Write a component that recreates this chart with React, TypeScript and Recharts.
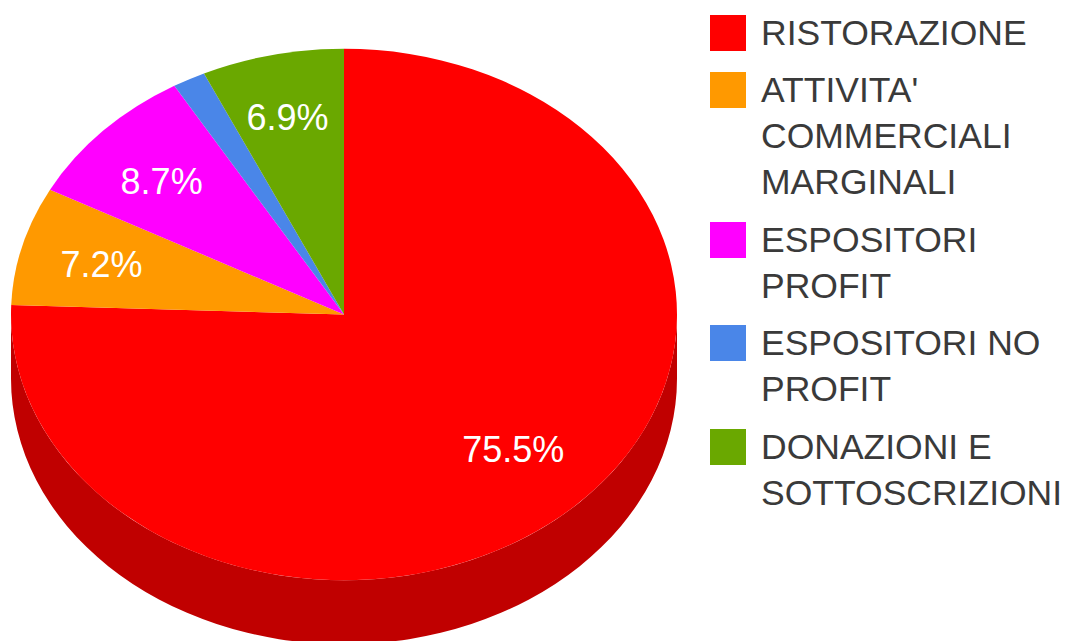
import { PieChart, Pie, Cell, Legend } from 'recharts';

const categories = ['RISTORAZIONE', "ATTIVITA' COMMERCIALI MARGINALI", 'ESPOSITORI PROFIT', 'ESPOSITORI NO PROFIT', 'DONAZIONI E SOTTOSCRIZIONI'];
const shares = [75.5, 7.2, 8.7, 1.6, 6.9];
const colors = ['#ff0000', '#ff9900', '#ff00ff', '#4a86e8', '#6aa800'];
const legendLines = [
  ['RISTORAZIONE'],
  ["ATTIVITA'", 'COMMERCIALI', 'MARGINALI'],
  ['ESPOSITORI', 'PROFIT'],
  ['ESPOSITORI NO', 'PROFIT'],
  ['DONAZIONI E', 'SOTTOSCRIZIONI'],
];

const data = categories.map((name, i) => ({ name, value: shares[i] }));

const FONT = 'Arial, "Liberation Sans", sans-serif';
const SQUASH = 0.798; // tilted pie, vertical radius / horizontal radius
const DEPTH = 64;
const WALL = '#c00000';
const RAD = Math.PI / 180;
const LABEL_NUDGE_Y = [-1.5, 3.5, 4.5, 0, -4.5];

// recharts gives a circular sector, flatten it and add the side wall
function TiltedSlice(props: any) {
  const { cx, cy, outerRadius, startAngle, endAngle, fill } = props;
  const rx = outerRadius;
  const ry = outerRadius * SQUASH;
  const px = (a: number) => cx + rx * Math.cos(a * RAD);
  const py = (a: number) => cy - ry * Math.sin(a * RAD);
  const large = Math.abs(startAngle - endAngle) > 180 ? 1 : 0;
  const top = `M${cx},${cy} L${px(startAngle)},${py(startAngle)} A${rx},${ry} 0 ${large} 1 ${px(endAngle)},${py(endAngle)} Z`;

  // only the front half of the rim shows a wall
  const from = Math.min(startAngle, 0);
  const to = Math.max(endAngle, -180);
  const wall =
    from > to
      ? `M${px(from)},${py(from)} A${rx},${ry} 0 0 1 ${px(to)},${py(to)} L${px(to)},${py(to) + DEPTH} A${rx},${ry} 0 0 0 ${px(from)},${py(from) + DEPTH} Z`
      : null;

  return (
    <g>
      {wall && <path d={wall} fill={WALL} />}
      <path d={top} fill={fill} />
    </g>
  );
}

function renderLabel(props: any) {
  const { cx, cy, outerRadius, midAngle, value, index } = props;
  if (value < 5) return null;
  const x = cx + outerRadius * 0.745 * Math.cos(midAngle * RAD) - 3;
  const y = cy - outerRadius * SQUASH * 0.73 * Math.sin(midAngle * RAD) - 3 + LABEL_NUDGE_Y[index];
  return (
    <text x={x} y={y} fill="#ffffff" fontFamily={FONT} fontSize={36} textAnchor="middle" dominantBaseline="central">
      {value.toFixed(1)}%
    </text>
  );
}

function LegendBlock() {
  return (
    <div style={{ display: 'flex', flexDirection: 'column', gap: 11.5 }}>
      {legendLines.map((lines, i) => (
        <div key={i} style={{ display: 'flex' }}>
          <div style={{ width: 36, height: 36, marginTop: 5, marginRight: 15, background: colors[i] }} />
          <div style={{ fontFamily: FONT, fontSize: 35.5, lineHeight: '46px', color: '#3a3a3a', whiteSpace: 'nowrap' }}>
            {lines.map((line) => (
              <div key={line}>{line}</div>
            ))}
          </div>
        </div>
      ))}
    </div>
  );
}

export default function App() {
  return (
    <div style={{ position: 'absolute', left: 0, top: 0, width: 1068, height: 641, overflow: 'hidden' }}>
      <PieChart width={1068} height={641} margin={{ top: 0, right: 0, bottom: 0, left: 0 }}>
        <Pie
          data={data}
          dataKey="value"
          nameKey="name"
          cx={344}
          cy={314.5}
          outerRadius={333}
          startAngle={90}
          endAngle={-270}
          stroke="none"
          shape={TiltedSlice}
          label={renderLabel}
          labelLine={false}
          isAnimationActive={false}
        >
          {data.map((d, i) => (
            <Cell key={d.name} fill={colors[i]} />
          ))}
        </Pie>
        <Legend
          layout="vertical"
          align="right"
          verticalAlign="top"
          content={<LegendBlock />}
          wrapperStyle={{ position: 'absolute', left: 710, top: 9.5, width: 358 }}
        />
      </PieChart>
    </div>
  );
}
